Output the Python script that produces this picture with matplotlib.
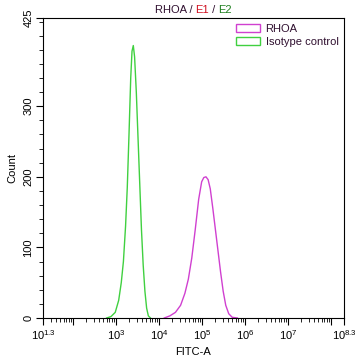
import numpy as np
import matplotlib.pyplot as plt
from matplotlib.patches import Patch
from matplotlib.offsetbox import TextArea, HPacker, AnchoredOffsetbox
from matplotlib.ticker import FixedLocator, MultipleLocator

plt.rcParams['font.family'] = ['Liberation Sans', 'DejaVu Sans']
plt.rcParams['mathtext.fontset'] = 'custom'
plt.rcParams['mathtext.rm'] = 'Liberation Sans'
plt.rcParams['mathtext.it'] = 'Liberation Sans'

# log10(FITC-A) and counts
iso_log = [2.78, 2.88, 2.98, 3.06, 3.12, 3.17, 3.22, 3.26, 3.30, 3.34, 3.37, 3.40,
           3.43, 3.47, 3.51, 3.55, 3.59, 3.63, 3.67, 3.71, 3.75, 3.80]
iso_cnt = [0, 2, 8, 25, 50, 80, 130, 185, 260, 340, 378, 386,
           370, 320, 255, 190, 125, 75, 38, 14, 3, 0]

rhoa_log = [4.12, 4.25, 4.38, 4.50, 4.60, 4.68, 4.76, 4.84, 4.92, 4.99, 5.04, 5.09,
            5.14, 5.19, 5.25, 5.31, 5.37, 5.43, 5.49, 5.55, 5.62, 5.70, 5.82]
rhoa_cnt = [0, 3, 8, 18, 35, 55, 85, 125, 168, 193, 199, 200,
            196, 183, 155, 125, 95, 65, 38, 18, 6, 1, 0]

iso_color = '#40d040'
rhoa_color = '#d040d0'
text_dark = '#301030'

fig = plt.figure(figsize=(3.58, 3.61), dpi=100)
ax = fig.add_axes([43/358, 43/361, 301/358, 300/361])

ax.plot(10**np.array(rhoa_log), rhoa_cnt, color=rhoa_color, lw=1.0)
ax.plot(10**np.array(iso_log), iso_cnt, color=iso_color, lw=1.0)

ax.set_xscale('log')
ax.set_xlim(10**1.3, 10**8.3)
ax.set_ylim(0, 425)

# x ticks
xt = [10**1.3, 1e2, 1e3, 1e4, 1e5, 1e6, 1e7, 1e8, 10**8.3]
xl = ['$10^{1.3}$', '', '$10^{3}$', '$10^{4}$', '$10^{5}$', '$10^{6}$', '$10^{7}$', '', '$10^{8.3}$']
ax.set_xticks(xt)
ax.set_xticklabels(xl, fontsize=8)
minors = [m * 10**d for d in range(1, 9) for m in range(2, 10)
          if 10**1.3 < m * 10**d < 10**8.3]
ax.xaxis.set_minor_locator(FixedLocator(minors))
ax.xaxis.set_minor_formatter(plt.NullFormatter())

# y ticks
ax.set_yticks([0, 100, 200, 300, 425])
ax.set_yticklabels(['0', '100', '200', '300', '425'], rotation=90, va='center', fontsize=8)
ax.yaxis.set_minor_locator(MultipleLocator(20))

ax.tick_params(which='major', length=5, width=0.8, direction='out', pad=2)
ax.tick_params(which='minor', length=3, width=0.6, direction='out')

ax.set_xlabel('FITC-A', fontsize=8, labelpad=4)
ax.set_ylabel('Count', fontsize=8, labelpad=4)

# legend
handles = [Patch(facecolor='white', edgecolor=rhoa_color, label='RHOA'),
           Patch(facecolor='white', edgecolor=iso_color, label='Isotype control')]
leg = ax.legend(handles=handles, loc='upper right', frameon=False, fontsize=8,
                handlelength=2.2, handleheight=0.7, borderaxespad=0.1,
                labelspacing=0.3, handletextpad=0.5)
for t in leg.get_texts():
    t.set_color(text_dark)

# coloured title
parts = [('RHOA / ', text_dark), ('E1', '#d01020'), (' / ', text_dark), ('E2', '#208020')]
boxes = [TextArea(s, textprops=dict(color=c, fontsize=8)) for s, c in parts]
title = HPacker(children=boxes, align='baseline', pad=0, sep=0)
anch = AnchoredOffsetbox(loc='lower center', child=title, pad=0, frameon=False,
                         bbox_to_anchor=(0.5, 1.01), bbox_transform=ax.transAxes,
                         borderpad=0)
ax.add_artist(anch)

fig.savefig('out.png', dpi=100)
